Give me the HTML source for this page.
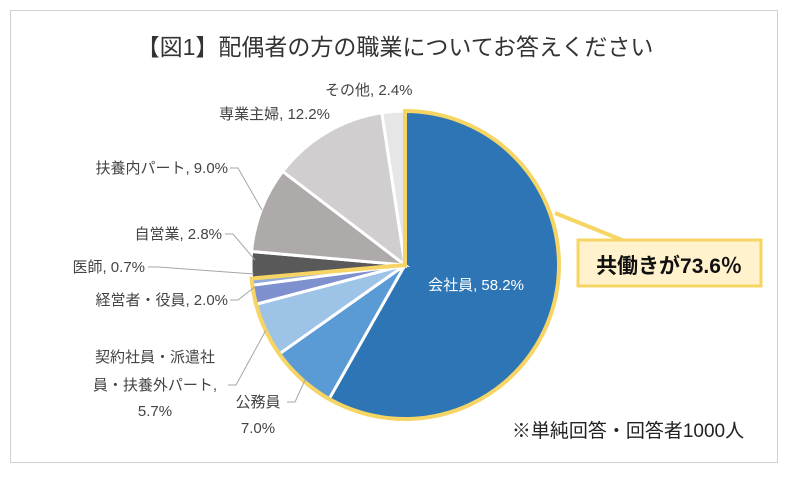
<!DOCTYPE html>
<html><head><meta charset="utf-8"><style>
body{margin:0;background:#fff;}
svg text{font-family:"Liberation Sans","Noto Sans CJK JP",sans-serif;}
</style></head><body>
<svg width="788" height="474">
<rect x="10.5" y="10.5" width="767" height="452" fill="#fff" stroke="#d0d0d0"/>
<text x="395" y="55" font-size="23" text-anchor="middle" fill="#333">【図1】配偶者の方の職業についてお答えください</text>
<g id="slices"></g>
<path id="hl" fill="none" stroke="#f7d565" stroke-width="4"/>
<line x1="555" y1="213" x2="622" y2="240" stroke="#f7d565" stroke-width="4"/>
<rect x="578" y="240" width="183" height="46" fill="#fff2cc" stroke="#f7d565" stroke-width="3"/>
<text x="669" y="273" font-size="21" font-weight="bold" text-anchor="middle" fill="#111">共働きが73.6％</text>
<g stroke="#a6a6a6" fill="none" stroke-width="1">
<polyline points="230,168 238,168 262,210"/>
<polyline points="225,234 233,234 255,260"/>
<polyline points="148,267 158,267 254,274"/>
<polyline points="230,300 238,300 256,286"/>
<polyline points="228,385 236,385 266,330"/>
<polyline points="287,402 295,402 305,380"/>
</g>
<g font-size="15" fill="#444">
<text x="325" y="95">その他, 2.4%</text>
<text x="330" y="119" text-anchor="end">専業主婦, 12.2%</text>
<text x="228" y="173" text-anchor="end">扶養内パート, 9.0%</text>
<text x="222" y="239" text-anchor="end">自営業, 2.8%</text>
<text x="145" y="272" text-anchor="end">医師, 0.7%</text>
<text x="228" y="305" text-anchor="end">経営者・役員, 2.0%</text>
<text x="155" y="362" text-anchor="middle">契約社員・派遣社</text>
<text x="155" y="390" text-anchor="middle">員・扶養外パート,</text>
<text x="155" y="416" text-anchor="middle">5.7%</text>
<text x="258" y="407" text-anchor="middle">公務員</text>
<text x="258" y="433" text-anchor="middle">7.0%</text>
</g>
<text x="476" y="290" font-size="15" fill="#fff" text-anchor="middle">会社員, 58.2%</text>
<text x="628" y="437" font-size="19" fill="#222" text-anchor="middle">※単純回答・回答者1000人</text>
</svg>
<script>
const categories=["会社員","公務員","契約社員・派遣社員・扶養外パート","経営者・役員","医師","自営業","扶養内パート","専業主婦","その他"];
const values=[58.2,7.0,5.7,2.0,0.7,2.8,9.0,12.2,2.4];
const colors=["#2e75b6","#5b9bd5","#9dc3e6","#7f90cf","#8faadc","#595959","#aeaaaa","#d0cece","#e7e6e6"];
const cx=405,cy=265,r=154;
const total=values.reduce((a,b)=>a+b,0);
function pt(f){const a=f*2*Math.PI;return [cx+r*Math.sin(a),cy-r*Math.cos(a)];}
const g=document.getElementById('slices');
let acc=0;
values.forEach((v,i)=>{
 const f0=acc/total,f1=(acc+v)/total;acc+=v;
 const p0=pt(f0),p1=pt(f1),large=(f1-f0)>0.5?1:0;
 const p=document.createElementNS('http://www.w3.org/2000/svg','path');
 p.setAttribute('d',`M${cx},${cy}L${p0[0]},${p0[1]}A${r},${r} 0 ${large} 1 ${p1[0]},${p1[1]}Z`);
 p.setAttribute('fill',colors[i]);p.setAttribute('stroke','#fff');p.setAttribute('stroke-width','3');
 
 
 g.appendChild(p);
});
const hv=values.slice(0,5).reduce((a,b)=>a+b,0)/total;
const h1=pt(hv),h0=pt(0);
document.getElementById('hl').setAttribute('d',`M${cx},${cy}L${h0[0]},${h0[1]}A${r},${r} 0 ${hv>0.5?1:0} 1 ${h1[0]},${h1[1]}Z`);
</script>
</body></html>
